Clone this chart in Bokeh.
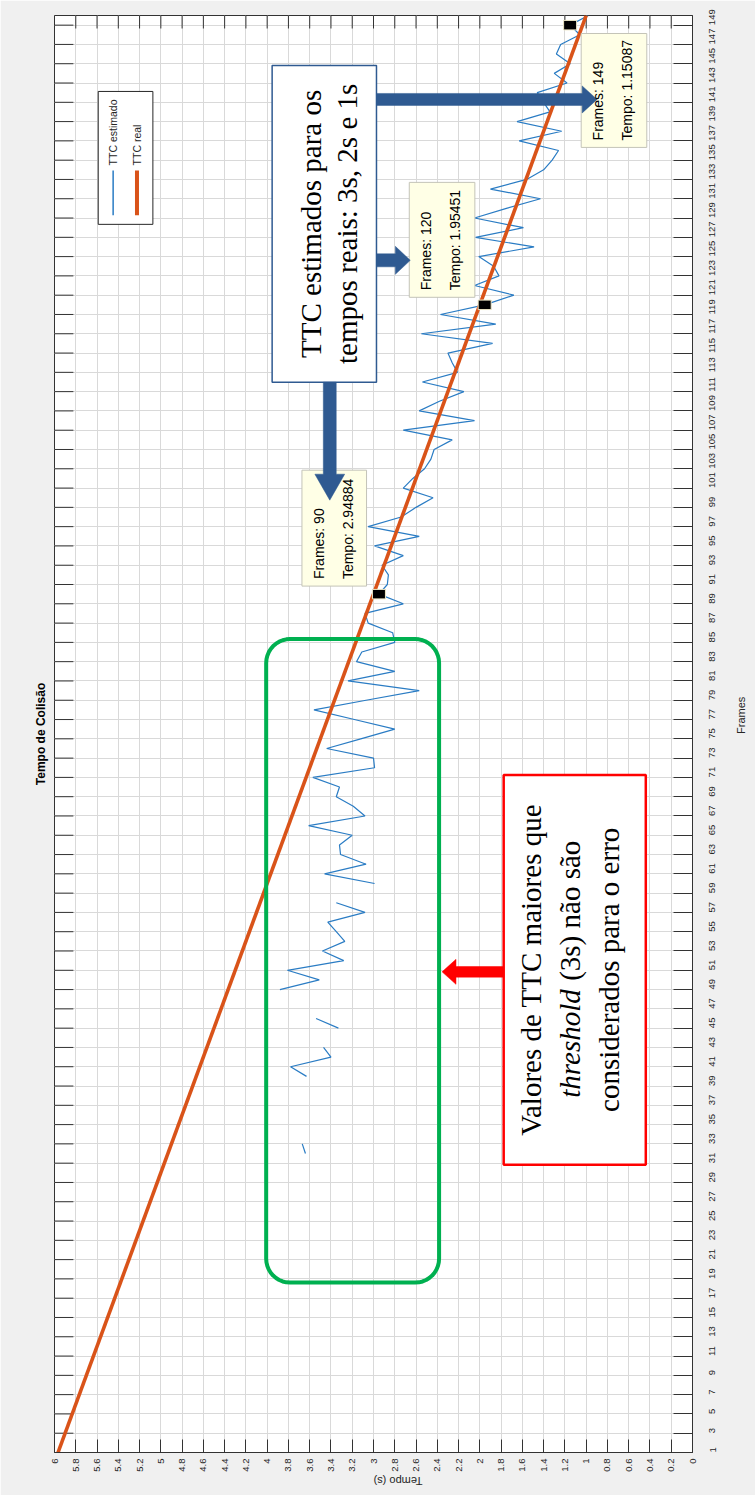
import math
import numpy as np
from bokeh.plotting import figure
from bokeh.models import Range1d, FixedTicker, Label
from bokeh.embed import file_html
from bokeh.resources import INLINE

# ---------------- data ----------------
TITLE = "Tempo de Colisão"
X_LABEL = "Frames"
Y_LABEL = "Tempo (s)"
SERIES_NAMES = ["TTC estimado", "TTC real"]

REAL_FRAMES = [1, 150]
REAL_TTC = [5.967, 1.0]

EST_FRAMES = list(range(32, 151))
EST_TTC = [
    3.64, 3.67,                                                   # 32-33
    None, None, None, None, None, None,                           # 34-39
    3.63, 3.78, 3.40, 3.47,                                       # 40-43
    None,                                                         # 44
    3.33, 3.54,                                                   # 45-46
    None, None,                                                   # 47-48
    3.88, 3.51, 3.81, 3.28, 3.48, 3.27, 3.35, 3.43, 3.08, 3.35,   # 49-58
    None,                                                         # 59
    2.99, 3.46, 3.07, 3.31, 3.32, 3.20, 3.61, 3.08, 3.19, 3.35,   # 60-69
    3.32, 3.57, 2.99, 3.00, 3.44, 3.12, 2.80, 3.18, 3.56, 3.07,   # 70-79
    2.57, 3.24, 2.80, 3.16, 3.11, 2.80, 2.82, 3.05, 3.08, 2.72,   # 80-89
    2.94884, 2.87, 2.86, 2.92, 2.72, 2.99, 2.57, 3.05, 2.74, 2.60,  # 90-99
    2.44, 2.72, 2.63, 2.52, 2.46, 2.43, 2.26, 2.72, 2.05, 2.57,   # 100-109
    2.38, 2.15, 2.54, 2.21, 2.26, 2.30, 1.88, 2.55, 1.85, 2.37,   # 110-119
    1.95451, 1.68, 2.05, 1.82, 1.87, 2.01, 1.49, 2.04, 1.59, 2.05,  # 120-129
    1.75, 1.43, 1.90, 1.56, 1.40, 1.32, 1.26, 1.63, 1.23, 1.65,   # 130-139
    1.34, 1.40, 1.46, 1.18, 1.30, 1.15, 1.28, 1.24, 1.06, 1.15087,  # 140-149
    0.98,                                                         # 150
]

DT_FRAMES = [90, 120, 149]
DT_TTC = [2.94884, 1.95451, 1.15087]

FRAME_TICKS = list(range(1, 150, 2))
TEMPO_TICKS = [0, 0.2, 0.4, 0.6, 0.8, 1, 1.2, 1.4, 1.6, 1.8, 2, 2.2, 2.4, 2.6,
               2.8, 3, 3.2, 3.4, 3.6, 3.8, 4, 4.2, 4.4, 4.6, 4.8, 5, 5.2, 5.4,
               5.6, 5.8, 6]
TEMPO_LABELS = ["0", "0.2", "0.4", "0.6", "0.8", "1", "1.2", "1.4", "1.6", "1.8",
                "2", "2.2", "2.4", "2.6", "2.8", "3", "3.2", "3.4", "3.6", "3.8",
                "4", "4.2", "4.4", "4.6", "4.8", "5", "5.2", "5.4", "5.6", "5.8", "6"]

NOTE_TTC = ["TTC estimados para os", "tempos reais: 3s, 2s e 1s"]
NOTE_THR = ["Valores de TTC maiores que", "threshold", "(3s) não são",
            "considerados para o erro"]

# ---------------- geometry helpers (canvas pixels -> data) ----------------
W, H = 755, 1495
FR_L, FR_R, FR_T, FR_B = 54, 696, 15, 1453
X0, X1 = 6.0, 0.0
Y0, Y1 = 1.0, 150.0


def tx(px):
    return X0 + (px - FR_L) * (X1 - X0) / (FR_R - FR_L)


def fy(py):
    return Y0 + (FR_B - py) * (Y1 - Y0) / (FR_B - FR_T)


def conv(pts):
    return [tx(a) for a, b in pts], [fy(b) for a, b in pts]


def arrow_poly(tail, tip, shaft_hw, head_len, head_hw):
    (x0, y0), (x1, y1) = tail, tip
    L = math.hypot(x1 - x0, y1 - y0)
    ux, uy = (x1 - x0) / L, (y1 - y0) / L
    nx, ny = -uy, ux
    bx, by = x1 - ux * head_len, y1 - uy * head_len
    pts = [(x0 + nx * shaft_hw, y0 + ny * shaft_hw),
           (bx + nx * shaft_hw, by + ny * shaft_hw),
           (bx + nx * head_hw, by + ny * head_hw),
           (x1, y1),
           (bx - nx * head_hw, by - ny * head_hw),
           (bx - nx * shaft_hw, by - ny * shaft_hw),
           (x0 - nx * shaft_hw, y0 - ny * shaft_hw)]
    return conv(pts)


def rrect(x0, y0, x1, y1, r, n=10):
    pts = []
    corners = [(x1 - r, y0 + r, -90, 0), (x1 - r, y1 - r, 0, 90),
               (x0 + r, y1 - r, 90, 180), (x0 + r, y0 + r, 180, 270)]
    for cx, cy, a0, a1 in corners:
        for k in range(n + 1):
            a = math.radians(a0 + (a1 - a0) * k / n)
            pts.append((cx + r * math.cos(a), cy + r * math.sin(a)))
    pts.append(pts[0])
    return conv(pts)


def box(x0, y0, x1, y1):
    return dict(left=tx(x0), right=tx(x1), top=fy(y0), bottom=fy(y1))


# ---------------- figure ----------------
AX = "#333333"
TXT = "#262626"
p = figure(width=W, height=H, x_range=Range1d(X0, X1), y_range=Range1d(Y0, Y1),
           output_backend="svg", toolbar_location=None, y_axis_location="right",
           title=TITLE, title_location="left",
           min_border_left=FR_L, min_border_right=W - FR_R, min_border_top=FR_T,
           min_border_bottom=H - FR_B,
           background_fill_color="white", border_fill_color="#f0f0f0")
p.outline_line_color = AX
p.outline_line_width = 1

p.title.align = "center"
p.title.text_font = "Liberation Sans"
p.title.text_font_style = "bold"
p.title.text_font_size = "12px"
p.title.text_color = "black"
p.title.standoff = 13
p.title.offset = -14

xa = p.xaxis[0]
xa.ticker = FixedTicker(ticks=TEMPO_TICKS)
xa.major_label_overrides = {t: l for t, l in zip(TEMPO_TICKS, TEMPO_LABELS)}
xa.major_label_orientation = math.pi / 2
xa.major_tick_in = 13
xa.major_tick_out = 0
xa.minor_tick_in = 0
xa.minor_tick_out = 0
xa.major_label_standoff = 6
xa.major_label_text_font = "Liberation Sans"
xa.major_label_text_font_size = "9.5px"
xa.major_label_text_color = TXT
xa.axis_line_color = AX
xa.major_tick_line_color = AX
xa.axis_label = Y_LABEL
xa.axis_label_standoff = 6
xa.axis_label_text_font = "Liberation Sans"
xa.axis_label_text_font_size = "11px"
xa.axis_label_text_font_style = "normal"
xa.axis_label_text_color = TXT

ya = p.yaxis[0]
ya.ticker = FixedTicker(ticks=FRAME_TICKS)
ya.major_label_orientation = math.pi / 2
ya.major_tick_in = 19
ya.major_tick_out = 0
ya.minor_tick_in = 0
ya.minor_tick_out = 0
ya.major_label_standoff = 20
ya.major_label_text_font = "Liberation Sans"
ya.major_label_text_font_size = "9.5px"
ya.major_label_text_color = TXT
ya.axis_line_color = AX
ya.major_tick_line_color = AX
ya.axis_label = X_LABEL
ya.axis_label_standoff = 19
ya.axis_label_text_font = "Liberation Sans"
ya.axis_label_text_font_size = "11px"
ya.axis_label_text_font_style = "normal"
ya.axis_label_text_color = TXT

try:
    ya.axis_label_orientation = math.pi / 2
    xa.axis_label_orientation = math.pi
except Exception:
    pass

p.xgrid[0].ticker = FixedTicker(ticks=TEMPO_TICKS)
p.ygrid[0].ticker = FixedTicker(ticks=FRAME_TICKS)
for g in (p.xgrid[0], p.ygrid[0]):
    g.grid_line_color = "#d9d9d9"
    g.grid_line_width = 1

# mirrored tick marks on the left and top edges of the box
nf, nt = len(FRAME_TICKS), len(TEMPO_TICKS)
p.segment(x0=[X0] * nf, y0=FRAME_TICKS, x1=[tx(FR_L + 19)] * nf, y1=FRAME_TICKS,
          line_color=AX, line_width=1)
p.segment(x0=TEMPO_TICKS, y0=[Y1] * nt, x1=TEMPO_TICKS, y1=[fy(FR_T + 13)] * nt,
          line_color=AX, line_width=1)

# ---------------- series ----------------
est = np.array(EST_TTC, dtype=float)
p.line(est, EST_FRAMES, line_color="#2a7cc4", line_width=1.2)
p.line(REAL_TTC, REAL_FRAMES, line_color="#D95319", line_width=3.6)

# ---------------- annotations ----------------
# green rounded box
gx, gy = rrect(267, 639, 441, 1283, 24)
p.patch(gx, gy, fill_color=None, line_color="#00B050", line_width=4)

# datatip boxes + markers
DT_BOXES = [(303, 470, 368, 586), (411, 182, 477, 297), (584, 33, 650, 147)]
for (bx0, by0, bx1, by1), fr, tt in zip(DT_BOXES, DT_FRAMES, DT_TTC):
    p.quad(**box(bx0, by0, bx1, by1), fill_color="#FFFFE6", line_color="#c4c4b8", line_width=1)
p.rect(DT_TTC, DT_FRAMES, width=13, height=9.5, width_units="screen", height_units="screen",
       fill_color="black", line_color="#efe9c8", line_width=1)

# navy text box and arrows
NAVY = "#2F5A91"
p.quad(**box(273, 65, 378, 382), fill_color="white", line_color=NAVY, line_width=1.5)
for (tail, tip, shw, hl, hhw) in [((378, 99), (600, 99), 6, 15, 13.5),
                                   ((378, 260), (412, 260), 6.5, 15, 14),
                                   ((331, 382), (331, 500), 6.5, 26, 15)]:
    ax_, ay_ = arrow_poly(tail, tip, shw, hl, hhw)
    p.patch(ax_, ay_, fill_color=NAVY, line_color=NAVY, line_width=0.5)

# datatip texts (drawn above the arrows)
for (bx0, by0, bx1, by1), fr, tt in zip(DT_BOXES, DT_FRAMES, DT_TTC):
    p.add_layout(Label(x=tx(bx0 + 17), y=fy(by1 - 7), text=f"Frames: {fr}", angle=math.pi / 2,
                       text_align="left", text_baseline="middle", text_font="Liberation Sans",
                       text_font_size="14px", text_color="black"))
    p.add_layout(Label(x=tx(bx0 + 46), y=fy(by1 - 7), text=f"Tempo: {tt}", angle=math.pi / 2,
                       text_align="left", text_baseline="middle", text_font="Liberation Sans",
                       text_font_size="14px", text_color="black"))

serif = dict(angle=math.pi / 2, text_baseline="middle", text_font="Liberation Serif",
             text_font_size="29px", text_color="black")
for cx, txt in zip([312, 348], NOTE_TTC):
    p.add_layout(Label(x=tx(cx), y=fy(223.5), text=txt, text_align="center", **serif))

# red text box and arrow
p.quad(**box(506, 775, 649, 1165), fill_color="white", line_color="#FF0000", line_width=2.5)
rx, ry = arrow_poly((506, 972), (444, 972), 5.3, 14, 12.5)
p.patch(rx, ry, fill_color="#FF0000", line_color="#FF0000", line_width=0.5)
p.add_layout(Label(x=tx(533), y=fy(970), text=NOTE_THR[0], text_align="center", **serif))
p.add_layout(Label(x=tx(573), y=fy(1098), text=NOTE_THR[1], text_align="left",
                   text_font_style="italic", **serif))
p.add_layout(Label(x=tx(573), y=fy(981), text=NOTE_THR[2], text_align="left", **serif))
p.add_layout(Label(x=tx(612), y=fy(970), text=NOTE_THR[3], text_align="center", **serif))

# legend (rotated, drawn by hand)
p.quad(**box(98, 91, 153, 224), fill_color="white", line_color=TXT, line_width=1)
lx, ly = conv([(113, 170), (113, 215)])
p.line(lx, ly, line_color="#2a7cc4", line_width=1.5)
lx, ly = conv([(137, 170), (137, 215)])
p.line(lx, ly, line_color="#D95319", line_width=4)
for cx, name in zip([113, 137], SERIES_NAMES):
    p.add_layout(Label(x=tx(cx), y=fy(165), text=name, angle=math.pi / 2, text_align="left",
                       text_baseline="middle", text_font="Liberation Sans",
                       text_font_size="10.5px", text_color=TXT))

open("out.html", "w").write(file_html(p, INLINE))
